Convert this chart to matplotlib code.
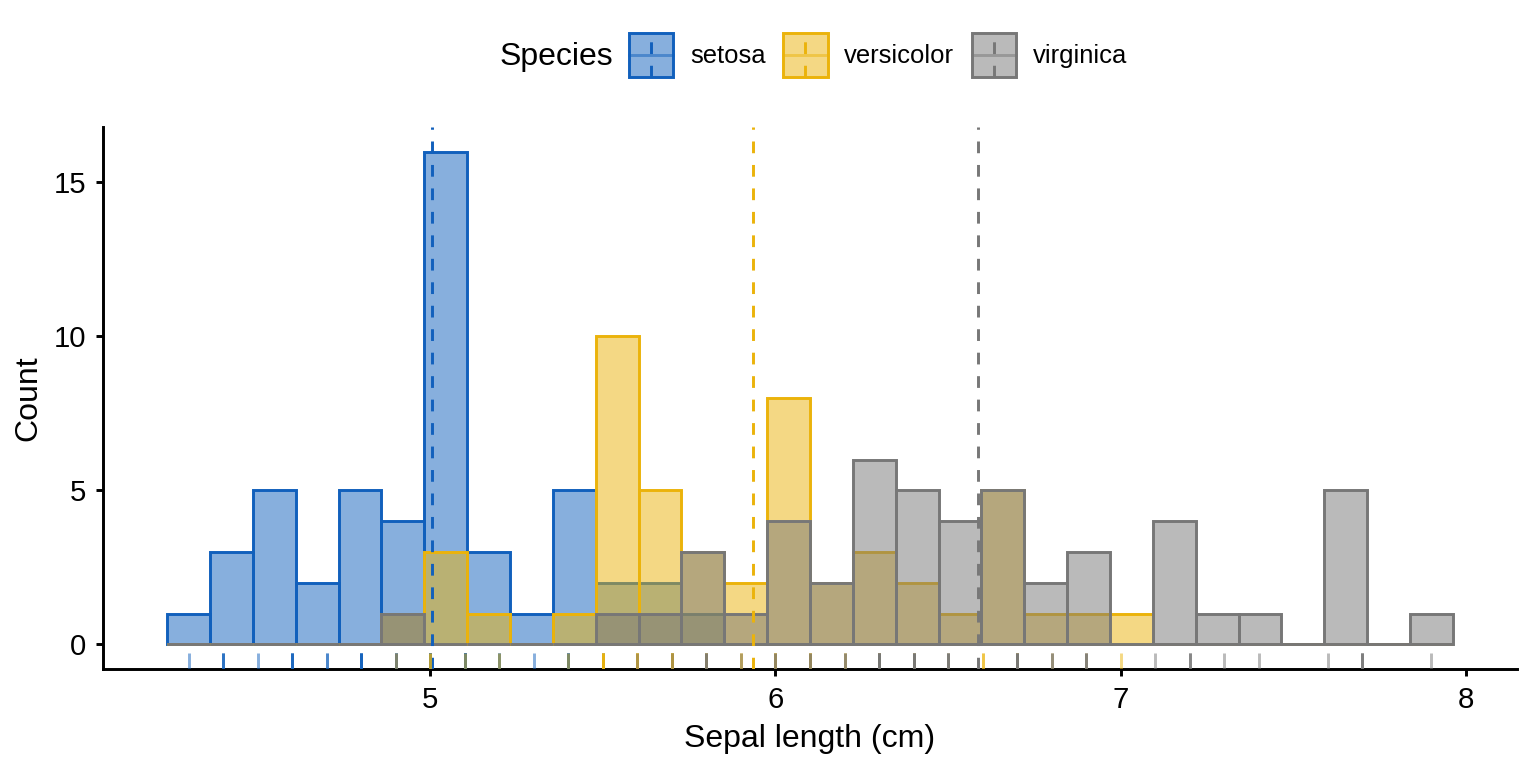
import numpy as np
import matplotlib
matplotlib.use("Agg")
import matplotlib.pyplot as plt
from matplotlib.patches import Rectangle, Patch
from matplotlib.lines import Line2D
from matplotlib.legend_handler import HandlerBase

plt.rcParams["font.family"] = ["Liberation Sans", "DejaVu Sans"]

# histogram: 30 bins from 4.3 to 7.9 (bin centres)
bin_first = 4.3
bin_last = 7.9
n_bins = 30

species = ["setosa", "versicolor", "virginica"]
colors = ["#1160BC", "#EBB30B", "#777777"]

setosa_counts = [1, 3, 5, 2, 5, 4, 16, 3, 1, 5, 2, 2, 1, 0, 0,
                 0, 0, 0, 0, 0, 0, 0, 0, 0, 0, 0, 0, 0, 0, 0]
versicolor_counts = [0, 0, 0, 0, 0, 1, 3, 1, 0, 1, 10, 5, 3, 2, 8,
                     2, 3, 2, 1, 5, 1, 1, 1, 0, 0, 0, 0, 0, 0, 0]
virginica_counts = [0, 0, 0, 0, 0, 1, 0, 0, 0, 0, 1, 1, 3, 1, 4,
                    2, 6, 5, 4, 5, 2, 3, 0, 4, 1, 1, 0, 5, 0, 1]

# mean sepal length per species (dashed lines)
means = [5.006, 5.936, 6.588]

# rug: observed values and how many times each occurs
setosa_rug = [4.3, 4.4, 4.5, 4.6, 4.7, 4.8, 4.9, 5.0, 5.1, 5.2, 5.3, 5.4, 5.5, 5.7, 5.8]
setosa_rug_n = [1, 3, 1, 4, 2, 5, 4, 8, 8, 3, 1, 5, 2, 2, 1]
versicolor_rug = [4.9, 5.0, 5.1, 5.2, 5.4, 5.5, 5.6, 5.7, 5.8, 5.9, 6.0,
                  6.1, 6.2, 6.3, 6.4, 6.5, 6.6, 6.7, 6.8, 6.9, 7.0]
versicolor_rug_n = [1, 2, 1, 1, 1, 5, 5, 5, 3, 2, 4, 4, 2, 3, 2, 1, 2, 3, 1, 1, 1]
virginica_rug = [4.9, 5.6, 5.7, 5.8, 5.9, 6.0, 6.1, 6.2, 6.3, 6.4, 6.5,
                 6.7, 6.8, 6.9, 7.1, 7.2, 7.3, 7.4, 7.6, 7.7, 7.9]
virginica_rug_n = [1, 1, 1, 3, 1, 2, 2, 2, 6, 5, 4, 5, 2, 3, 1, 3, 1, 1, 1, 4, 1]

counts = [setosa_counts, versicolor_counts, virginica_counts]
rugs = [(setosa_rug, setosa_rug_n), (versicolor_rug, versicolor_rug_n),
        (virginica_rug, virginica_rug_n)]

LW = 1.1


class KeyHandler(HandlerBase):
    # filled square + rug line + dashed mean line, like the ggplot key
    def create_artists(self, legend, orig_handle, xdescent, ydescent,
                       width, height, fontsize, trans):
        col = orig_handle.get_edgecolor()
        x0, y0 = -xdescent, -ydescent
        rect = Rectangle((x0, y0), width, height, facecolor=(col[0], col[1], col[2], 0.5),
                         edgecolor=col, lw=LW, joinstyle="miter", transform=trans)
        h = Line2D([x0, x0 + width], [y0 + height / 2] * 2, color=col,
                   alpha=0.5, lw=LW, transform=trans)
        v = Line2D([x0 + width / 2] * 2, [y0, y0 + height], color=col,
                   lw=LW, linestyle=(0, (4, 4)), transform=trans)
        return [rect, h, v]


def main():
    fig = plt.figure(figsize=(8, 4), dpi=192)
    ax = fig.add_axes([103 / 1536, 99 / 768, 1414 / 1536, 542 / 768])

    width = (bin_last - bin_first) / (n_bins - 1)
    centers = bin_first + width * np.arange(n_bins)

    for cnt, col in zip(counts, colors):
        ax.bar(centers, cnt, width=width, facecolor=matplotlib.colors.to_rgba(col, 0.5),
               edgecolor=col, linewidth=LW, joinstyle="miter", zorder=2)

    for m, col in zip(means, colors):
        ax.axvline(m, color=col, lw=LW, linestyle=(0, (4, 4)), zorder=3)

    xt = ax.get_xaxis_transform()
    for (vals, ns), col in zip(rugs, colors):
        xs = np.repeat(vals, ns)
        ax.vlines(xs, 0, 0.03, transform=xt, colors=col, alpha=0.5, lw=LW, zorder=3)

    ax.set_xlim(4.052, 8.148)
    ax.set_ylim(-0.8, 16.8)
    ax.set_xticks([5, 6, 7, 8])
    ax.set_yticks([0, 5, 10, 15])
    for s in ["top", "right"]:
        ax.spines[s].set_visible(False)
    for s in ["left", "bottom"]:
        ax.spines[s].set_linewidth(LW)
    ax.tick_params(width=LW, length=2.75, labelsize=11, colors="black", pad=3.5)
    ax.set_xlabel("Sepal length (cm)", fontsize=12, labelpad=4)
    ax.set_ylabel("Count", fontsize=12, labelpad=4)

    handles = [Patch(facecolor=c, edgecolor=c) for c in colors]
    hm = {h: KeyHandler() for h in handles}
    fig.text(500 / 1536, 1 - 57 / 768, "Species", fontsize=12, va="center", ha="left")
    fig.legend(handles, species, handler_map=hm, loc="center left",
               bbox_to_anchor=(629 / 1536, 1 - 55 / 768), ncol=3, frameon=False,
               fontsize=9.6, handlelength=1.72, handleheight=2.27,
               handletextpad=0.66, columnspacing=0.7, borderpad=0, borderaxespad=0)

    fig.savefig("out.png", dpi=192)


if __name__ == "__main__":
    main()
